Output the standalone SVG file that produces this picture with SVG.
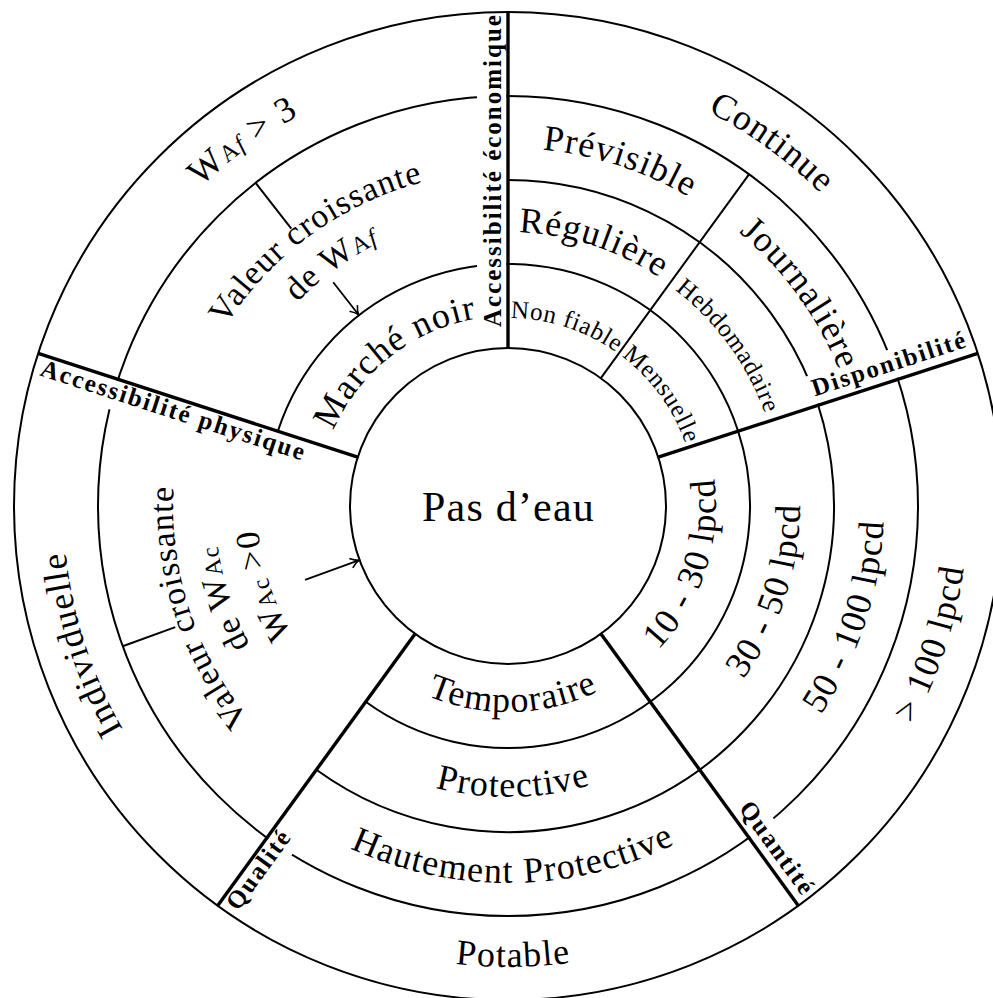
<svg xmlns="http://www.w3.org/2000/svg" width="993" height="998" viewBox="0 0 993 998">
<style>
.thin{fill:none;stroke:#000;stroke-width:2}
.thick{fill:none;stroke:#000;stroke-width:3.4}
.bg{fill:#fff;stroke:none}
text{font-family:"Liberation Serif","Times New Roman",serif;fill:#000}
.lg{font-size:36px;letter-spacing:1.2px}
.md{font-size:34px;letter-spacing:1px}
.sm{font-size:25px;letter-spacing:0.7px}
.bd{font-size:25px;font-weight:bold;letter-spacing:2px}
.sub{font-size:24px}
.arr{fill:none;stroke:#000;stroke-width:1.8}
</style>
<defs>
<marker id="ah" markerUnits="userSpaceOnUse" markerWidth="12" markerHeight="12" refX="0" refY="0" orient="auto" overflow="visible">
<path d="M-8,-5 C-5,-2.5 -2,-0.8 0,0 C-2,0.8 -5,2.5 -8,5" fill="none" stroke="#000" stroke-width="1.6"/>
</marker>
<path id="p1" d="M174.42,216.02 A442,442 0 0 1 886.87,733.65"/>
<path id="p2" d="M178.46,366.12 A358,358 0 0 1 856.82,586.53"/>
<path id="p3" d="M323.62,199.13 A358,358 0 0 1 742.87,776.19"/>
<path id="p4" d="M255.78,398.94 A274,274 0 0 1 774.98,567.64"/>
<path id="p5" d="M367.39,271.99 A273,273 0 0 1 687.10,712.04"/>
<path id="p6" d="M334.95,432.54 A188,188 0 0 1 691.18,548.29"/>
<path id="p7" d="M411.17,344.85 A188,188 0 0 1 631.34,647.89"/>
<path id="p8" d="M348.65,609.48 A190,190 0 0 1 646.96,376.42"/>
<path id="p9" d="M128.27,734.16 A443,443 0 0 1 842.34,215.37"/>
<path id="p10" d="M220.85,678.54 A335,335 0 0 1 760.83,286.22"/>
<path id="p11" d="M256.85,656.91 A293,293 0 0 1 729.13,313.77"/>
<path id="p12" d="M583.36,832.41 A335,335 0 0 1 377.11,197.63"/>
<path id="p13" d="M573.91,791.49 A293,293 0 0 1 393.52,236.29"/>
<path id="p14" d="M564.46,750.57 A251,251 0 0 1 409.93,274.95"/>
<path id="p15" d="M608.10,939.59 A445,445 0 0 1 334.13,96.38"/>
<path id="p16" d="M302.78,523.95 A206,206 0 0 0 713.22,523.95"/>
<path id="p17" d="M218.11,531.36 A291,291 0 0 0 797.89,531.36"/>
<path id="p18" d="M132.44,538.86 A377,377 0 0 0 883.56,538.86"/>
<path id="p19" d="M48.76,546.18 A461,461 0 0 0 967.24,546.18"/>
<path id="p20" d="M461.21,708.67 A208,208 0 0 0 589.27,314.54"/>
<path id="p21" d="M442.31,790.52 A292,292 0 0 0 622.09,237.21"/>
<path id="p22" d="M423.42,872.36 A376,376 0 0 0 654.91,159.89"/>
<path id="p23" d="M404.52,954.21 A460,460 0 0 0 687.74,82.57"/>
</defs>
<rect width="993" height="998" fill="#fff"/>

<g id="rings">
<path class="thin" d="M277.84,431.22 A242,242 0 1 1 365.75,701.78"/>
<path class="thin" d="M508,180 A326,326 0 1 1 316.38,769.74"/>
<circle class="thin" cx="508" cy="506" r="410"/>
<line class="thin" x1="600.87" y1="378.17" x2="749" y2="174.3"/>
<line class="thin" x1="255.6" y1="182.9" x2="291.3" y2="228.6"/>
<line class="thin" x1="122.7" y1="646.2" x2="175.3" y2="627.1"/>
</g>

<g id="label-backgrounds">
<rect class="bg" x="477" y="15" width="29.5" height="327"/>
<rect class="bg" transform="translate(38.18,353.35) rotate(18)" x="4" y="1.7" width="284" height="29.5"/>
<rect class="bg" transform="translate(508,506) rotate(-18)" x="321" y="-31" width="171" height="29.3"/>
<rect class="bg" transform="translate(508,506) rotate(54)" x="377" y="-31" width="115" height="29.3"/>
<rect class="bg" transform="translate(217.63,905.65) rotate(-54)" x="3" y="1.7" width="97" height="28.5"/>
</g>

<g id="connectors">
<circle class="thin" cx="508" cy="506" r="494"/>
<line class="thick" x1="508" y1="348" x2="508" y2="12"/>
<line class="thick" x1="658.27" y1="457.17" x2="977.82" y2="353.35"/>
<line class="thick" x1="600.87" y1="633.83" x2="798.37" y2="905.65"/>
<line class="thick" x1="415.13" y1="633.83" x2="217.63" y2="905.65"/>
<line class="thick" x1="357.73" y1="457.17" x2="38.18" y2="353.35"/>
<line class="arr" x1="333.2" y1="282.2" x2="358.4" y2="314.5" marker-end="url(#ah)"/>
<line class="arr" x1="305" y1="579.9" x2="358.6" y2="560.4" marker-end="url(#ah)"/>
</g>

<g id="pas-deau">
<circle class="thin" cx="508" cy="506" r="158"/>
<text x="508.5" y="520.7" font-size="42" text-anchor="middle" letter-spacing="1.2">Pas d’eau</text>
</g>

<g id="disponibilite">
<text class="bd" transform="translate(508,506) rotate(-18)" x="325.5" y="-9.5">Disponibilité</text>
<text class="lg" text-anchor="middle"><textPath href="#p1" startOffset="50%">Continue</textPath></text>
<text class="lg" text-anchor="middle"><textPath href="#p2" startOffset="50%">Prévisible</textPath></text>
<text class="lg" text-anchor="middle"><textPath href="#p3" startOffset="50%">Journalière</textPath></text>
<text class="lg" text-anchor="middle"><textPath href="#p4" startOffset="50%">Régulière</textPath></text>
<text class="sm" text-anchor="middle"><textPath href="#p5" startOffset="50%">Hebdomadaire</textPath></text>
<text class="sm" text-anchor="middle"><textPath href="#p6" startOffset="50%">Non fiable</textPath></text>
<text class="sm" text-anchor="middle"><textPath href="#p7" startOffset="50%">Mensuelle</textPath></text>
</g>

<g id="accessibilite-economique">
<text class="bd" transform="translate(500.5,327) rotate(-90)">Accessibilité économique</text>
<text class="lg" text-anchor="middle"><textPath href="#p8" startOffset="50%">Marché noir</textPath></text>
<text class="lg" text-anchor="middle"><textPath href="#p9" startOffset="50%">W<tspan class="sub">A</tspan><tspan class="sub" font-style="italic">f</tspan> &gt; 3</textPath></text>
<text class="md" text-anchor="middle"><textPath href="#p10" startOffset="50%">Valeur croissante</textPath></text>
<text class="md" text-anchor="middle"><textPath href="#p11" startOffset="50%">de W<tspan class="sub">A</tspan><tspan class="sub" font-style="italic">f</tspan></textPath></text>
</g>

<g id="accessibilite-physique">
<text class="bd" transform="translate(38.18,353.35) rotate(18)" x="7.5" y="20.5">Accessibilité physique</text>
<text class="md" text-anchor="middle"><textPath href="#p12" startOffset="50%">Valeur croissante</textPath></text>
<text class="md" text-anchor="middle"><textPath href="#p13" startOffset="50%">de W<tspan class="sub">Ac</tspan></textPath></text>
<text class="md" text-anchor="middle"><textPath href="#p14" startOffset="50%">W<tspan class="sub">Ac</tspan> &gt;0</textPath></text>
<text class="lg" text-anchor="middle"><textPath href="#p15" startOffset="50%">Individuelle</textPath></text>
</g>

<g id="qualite">
<text class="bd" transform="translate(217.63,905.65) rotate(-54)" x="7" y="20">Qualité</text>
<text class="lg" text-anchor="middle"><textPath href="#p16" startOffset="311">Temporaire</textPath></text>
<text class="lg" text-anchor="middle"><textPath href="#p17" startOffset="437">Protective</textPath></text>
<text class="lg" text-anchor="middle"><textPath href="#p18" startOffset="564.5">Hautement Protective</textPath></text>
<text class="lg" text-anchor="middle"><textPath href="#p19" startOffset="689">Potable</textPath></text>
</g>

<g id="quantite">
<text class="bd" transform="translate(508,506) rotate(54)" x="380" y="-8.5">Quantité</text>
<text class="lg" text-anchor="middle"><textPath href="#p20" startOffset="50%">10 - 30 lpcd</textPath></text>
<text class="lg" text-anchor="middle"><textPath href="#p21" startOffset="50%">30 - 50 lpcd</textPath></text>
<text class="lg" text-anchor="middle"><textPath href="#p22" startOffset="50%">50 - 100 lpcd</textPath></text>
<text class="lg" text-anchor="middle"><textPath href="#p23" startOffset="50%">&gt; 100 lpcd</textPath></text>
</g>
</svg>
